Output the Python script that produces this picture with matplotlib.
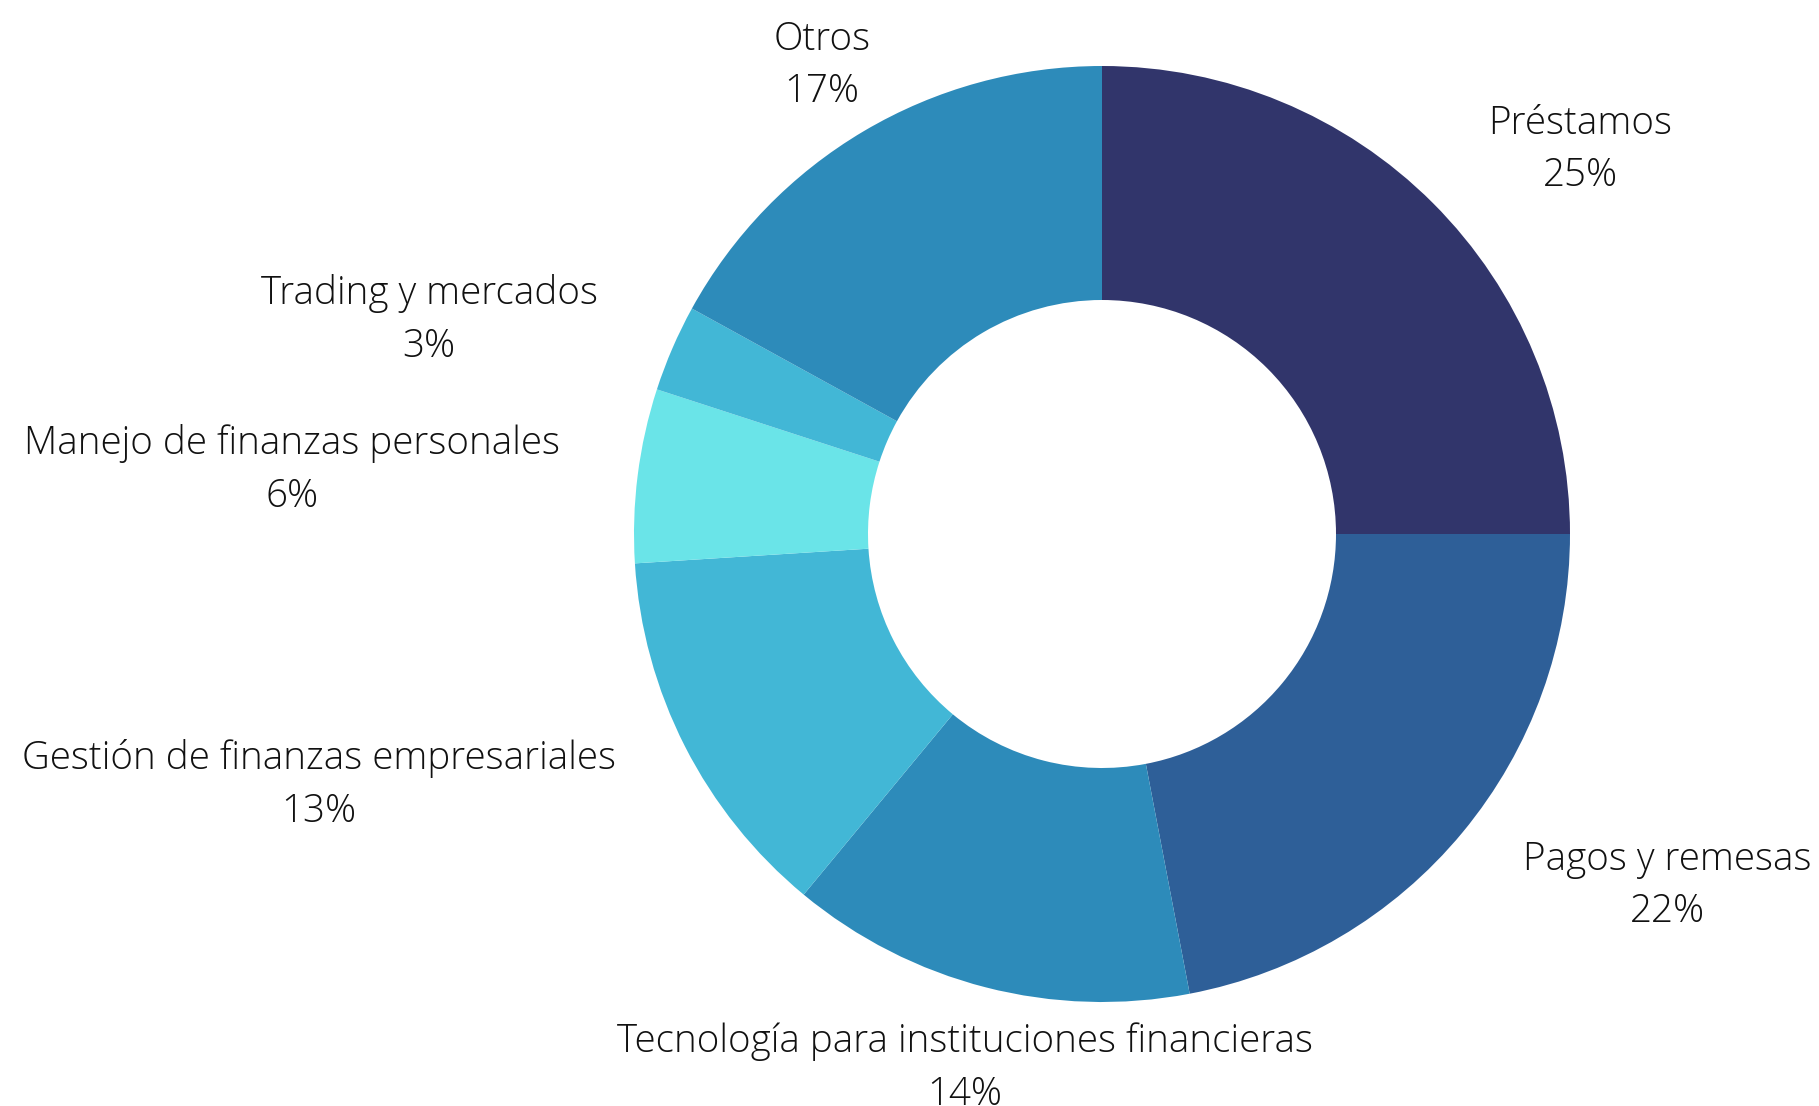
import matplotlib.pyplot as plt
import numpy as np

categorias = ['Préstamos', 'Pagos y remesas', 'Tecnología para instituciones financieras',
              'Gestión de finanzas empresariales', 'Manejo de finanzas personales',
              'Trading y mercados', 'Otros']
porcentajes = [25, 22, 14, 13, 6, 3, 17]
colores = ['#31356B', '#2E5F98', '#2D8BBA', '#42B7D6', '#6AE4E8', '#42B7D6', '#2D8BBA']

# label centres in pixels (x, y from top)
pos_labels = [(1580, 150), (1667, 886), (965, 1068), (319, 785), (292, 470), (429, 320), (822, 66)]

W, H = 1819, 1106
fig = plt.figure(figsize=(W/100, H/100), dpi=100)
ax = fig.add_axes([0, 0, 1, 1])

cx, cy, R = 1102, H - 534, 468
ax.pie(porcentajes, colors=colores, startangle=90, counterclock=False,
       center=(cx, cy), radius=R, wedgeprops=dict(width=R*0.5, linewidth=0),
       frame=True)
ax.set_xlim(0, W)
ax.set_ylim(0, H)
ax.axis('off')

# the reference also cuts the last line of the bottom label at the edge
for cat, p, (x, y) in zip(categorias, porcentajes, pos_labels):
    ax.text(x, H - y, cat + '\n' + str(p) + '%', ha='center', va='center',
            fontsize=27.7, family='Open Sans', fontweight='light', color='#111111',
            linespacing=1.47)

fig.savefig('out.png', dpi=100)
